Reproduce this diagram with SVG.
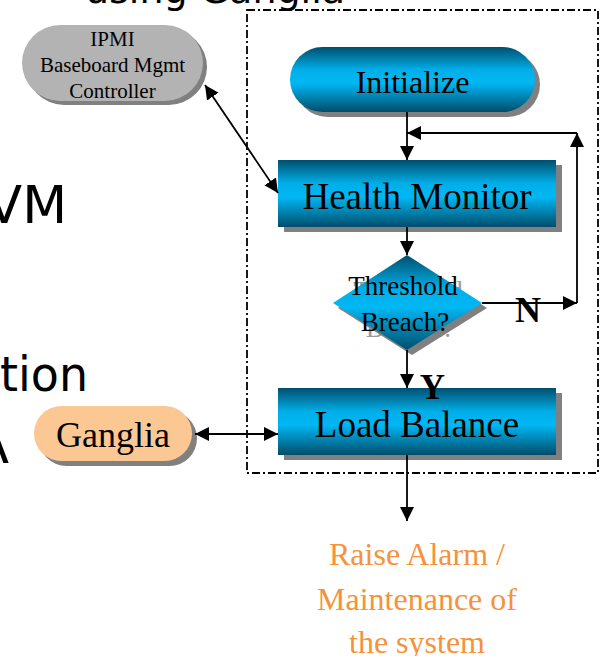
<svg xmlns="http://www.w3.org/2000/svg" width="601" height="656" viewBox="0 0 601 656">
<style>
.lbl{font-family:"Liberation Serif","Times New Roman",serif;fill:#000;text-anchor:middle}
.bg{font-family:"DejaVu Sans","Liberation Sans",sans-serif;fill:#000}
.sh{fill:#808080}
.con{fill:none;stroke:#000;stroke-width:1.8}
.arr{marker-end:url(#ah)}
.both{marker-start:url(#ah);marker-end:url(#ah)}
.blue{fill:url(#bluegrad)}
</style>
<defs>
<linearGradient id="bluegrad" x1="0" y1="0" x2="0" y2="1">
<stop offset="0" stop-color="#004f6e"/>
<stop offset="0.35" stop-color="#00aee8"/>
<stop offset="0.55" stop-color="#00b8f4"/>
<stop offset="1" stop-color="#004d6b"/>
</linearGradient>
<marker id="ah" viewBox="0 0 14 14" refX="14" refY="7" markerWidth="14" markerHeight="14" markerUnits="userSpaceOnUse" orient="auto-start-reverse">
<path d="M0,0 L14,7 L0,14 z" fill="#000"/>
</marker>
</defs>
<rect width="601" height="656" fill="#fff"/>

<g id="slide-text">
<text class="bg" x="345" y="3" font-size="38" text-anchor="end">using Ganglia</text>
<text class="bg" x="67" y="223" font-size="52" text-anchor="end">VM</text>
<text class="bg" x="0" y="391" font-size="48" textLength="88" lengthAdjust="spacingAndGlyphs">tion</text>
<text class="bg" x="9" y="463" font-size="52" text-anchor="end">A</text>
</g>

<g id="boundary">
<rect x="247" y="10" width="351" height="463" fill="none" stroke="#000" stroke-width="1.8" stroke-dasharray="8 3 2 3"/>
</g>

<g id="ipmi">
<rect class="sh" x="26" y="29" width="181" height="76" rx="38"/>
<rect x="22" y="25" width="181" height="76" rx="38" fill="#b3b3b3"/>
<text class="lbl" x="112.5" y="46" font-size="21">IPMI</text>
<text class="lbl" x="112.5" y="72" font-size="21">Baseboard Mgmt</text>
<text class="lbl" x="112.5" y="98" font-size="21">Controller</text>
</g>

<g id="initialize">
<rect class="sh" x="295" y="52" width="245" height="65" rx="32.5"/>
<rect class="blue" x="290" y="47" width="245" height="65" rx="32.5"/>
<text class="lbl" x="412.5" y="93" font-size="32">Initialize</text>
</g>

<g id="health-monitor">
<rect class="sh" x="284" y="165" width="278" height="67"/>
<rect class="blue" x="278" y="160" width="278" height="67"/>
<text class="lbl" x="417" y="209" font-size="37">Health Monitor</text>
</g>

<g id="threshold">
<text class="lbl" x="408" y="300" font-size="27" style="fill:#9a9a9a">Threshold</text>
<text class="lbl" x="410" y="337" font-size="27" style="fill:#9a9a9a">Breach?</text>
<polygon class="sh" points="412,260 487,308 412,355 338,308"/>
<polygon class="blue" points="407,255 482,303 407,350 333,303"/>
<text class="lbl" x="403" y="295" font-size="27">Threshold</text>
<text class="lbl" x="405" y="331" font-size="27">Breach?</text>
</g>

<g id="load-balance">
<rect class="sh" x="284" y="393" width="278" height="67"/>
<rect class="blue" x="278" y="388" width="278" height="67"/>
<text class="lbl" x="417" y="437" font-size="37">Load Balance</text>
</g>

<g id="ganglia">
<rect class="sh" x="39" y="411" width="158" height="55" rx="27.5"/>
<rect x="34" y="406" width="158" height="55" rx="27.5" fill="#fbc894"/>
<text class="lbl" x="113" y="447" font-size="36">Ganglia</text>
</g>

<g id="alarm">
<text class="lbl" x="417" y="565" font-size="32" style="fill:#f5923a">Raise Alarm /</text>
<text class="lbl" x="417" y="610" font-size="32" style="fill:#f5923a">Maintenance of</text>
<text class="lbl" x="417" y="653" font-size="32" style="fill:#f5923a">the system</text>
</g>

<g id="connectors">
<path class="con arr" d="M407,112 V160"/>
<path class="con arr" d="M407,350 V388"/>
<path class="con arr" d="M407,227 V255"/>
<path class="con arr" d="M407,455 V521"/>
<path class="con arr" d="M482,303 H577"/>
<path class="con arr" d="M577,303 V133"/>
<path class="con arr" d="M577,133 H407"/>
<path class="con both" d="M195,434 H278"/>
<path class="con both" d="M205,85 L278,193"/>
<text class="lbl" x="432.5" y="399" font-size="35" font-weight="bold">Y</text>
<text class="lbl" x="528" y="322" font-size="36" font-weight="bold">N</text>
</g>
</svg>
